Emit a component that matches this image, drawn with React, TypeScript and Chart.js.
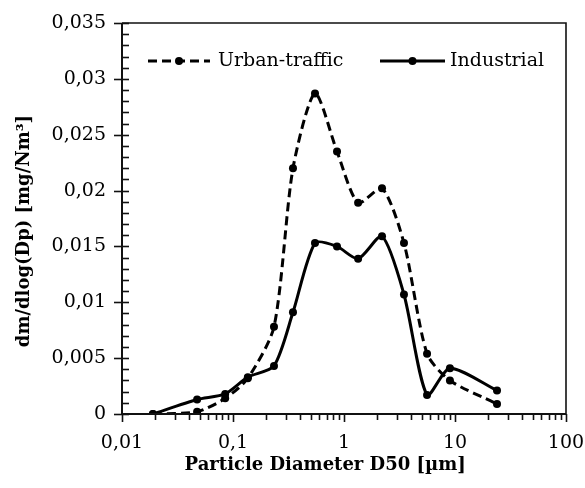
import React, { useEffect, useRef } from "react";
import { Chart, registerables } from "chart.js";

Chart.register(...registerables);

// Particle diameter D50 [µm]
const diameters = [0.019, 0.0475, 0.085, 0.136, 0.234, 0.347, 0.548, 0.865, 1.34, 2.2, 3.47, 5.6, 9.0, 23.9];
// dm/dlog(Dp) [mg/Nm³]
const urbanTraffic = [0, 0.0002, 0.0014, 0.0032, 0.0078, 0.022, 0.0287, 0.0235, 0.0189, 0.0202, 0.0153, 0.0054, 0.003, 0.0009];
const industrial = [0, 0.0013, 0.0018, 0.0033, 0.0043, 0.0091, 0.0153, 0.015, 0.0139, 0.0159, 0.0107, 0.0017, 0.0041, 0.0021];
const seriesNames = ["Urban-traffic", "Industrial"];
const xTickValues = [0.01, 0.1, 1, 10, 100];
const yMin = 0;
const yMax = 0.035;
const yStep = 0.005;
const yMinorStep = 0.001;
const xTitle = "Particle Diameter D50 [µm]";
const yTitle = "dm/dlog(Dp) [mg/Nm³]";

const FONT = "'DejaVu Serif', serif";
const fmt = (v: number) => String(Number(v.toFixed(4))).replace(".", ",");

export default function App() {
  const ref = useRef<HTMLCanvasElement>(null);

  useEffect(() => {
    if (!ref.current) return;

    const decorPlugin = {
      id: "decor",
      afterDraw(chart: any) {
        const { ctx, chartArea: a, scales } = chart;
        const x = scales.x;
        const y = scales.y;
        const crisp = (v: number) => Math.round(v) + 0.5;
        ctx.save();
        ctx.strokeStyle = "#111";
        // box
        ctx.lineWidth = 1.6;
        ctx.beginPath();
        ctx.moveTo(a.left, a.top);
        ctx.lineTo(a.right, a.top);
        ctx.lineTo(a.right, a.bottom);
        ctx.stroke();
        ctx.lineWidth = 2;
        ctx.beginPath();
        ctx.moveTo(a.left, a.top);
        ctx.lineTo(a.left, a.bottom);
        ctx.lineTo(a.right, a.bottom);
        ctx.stroke();
        // y ticks
        ctx.lineWidth = 1.6;
        const nMinor = Math.round((yMax - yMin) / yMinorStep);
        const per = Math.round(yStep / yMinorStep);
        for (let i = 0; i <= nMinor; i++) {
          const v = yMin + i * yMinorStep;
          const py = crisp(y.getPixelForValue(v));
          const major = i % per === 0;
          ctx.beginPath();
          ctx.moveTo(a.left - (major ? 8 : 0), py);
          ctx.lineTo(a.left + 7, py);
          ctx.stroke();
        }
        // x ticks (log minor)
        for (let e = -2; e <= 2; e++) {
          for (let m = 1; m <= 9; m++) {
            const v = m * Math.pow(10, e);
            if (v > 100.0001) continue;
            const px = crisp(x.getPixelForValue(v));
            const major = m === 1;
            ctx.beginPath();
            ctx.moveTo(px, a.bottom);
            ctx.lineTo(px, a.bottom + (major ? 8 : 6));
            ctx.stroke();
          }
        }
        // legend
        const ly = a.top + 38;
        const items = [
          { ds: chart.data.datasets[0], x0: a.left + 26, x1: a.left + 88, tx: a.left + 96 },
          { ds: chart.data.datasets[1], x0: a.left + 258, x1: a.left + 323, tx: a.left + 328 },
        ];
        for (const it of items) {
          ctx.strokeStyle = it.ds.borderColor;
          ctx.lineWidth = it.ds.borderWidth;
          ctx.setLineDash(it.ds.borderDash || []);
          ctx.beginPath();
          ctx.moveTo(it.x0, ly);
          ctx.lineTo(it.x1, ly);
          ctx.stroke();
          ctx.setLineDash([]);
          ctx.fillStyle = it.ds.pointBackgroundColor;
          ctx.beginPath();
          ctx.arc((it.x0 + it.x1) / 2, ly, it.ds.pointRadius, 0, Math.PI * 2);
          ctx.fill();
          ctx.fillStyle = "#000";
          ctx.font = `19px ${FONT}`;
          ctx.textBaseline = "middle";
          ctx.textAlign = "left";
          ctx.fillText(it.ds.label, it.tx, ly);
        }
        ctx.restore();
      },
    };

    const mk = (vals: number[]) => diameters.map((d, i) => ({ x: d, y: vals[i] }));

    const chart = new Chart(ref.current, {
      type: "line",
      data: {
        datasets: [
          {
            label: seriesNames[0],
            data: mk(urbanTraffic),
            borderColor: "#000",
            borderWidth: 3,
            borderDash: [9, 5],
            pointRadius: 4,
            pointBackgroundColor: "#000",
            pointBorderWidth: 0,
            tension: 0.25,
          },
          {
            label: seriesNames[1],
            data: mk(industrial),
            borderColor: "#000",
            borderWidth: 3,
            pointRadius: 4,
            pointBackgroundColor: "#000",
            pointBorderWidth: 0,
            tension: 0.25,
          },
        ],
      },
      options: {
        responsive: false,
        animation: false,
        devicePixelRatio: 1,
        layout: { padding: { top: 23, right: 34, left: 0, bottom: 0 } },
        plugins: { legend: { display: false }, tooltip: { enabled: false } },
        scales: {
          x: {
            type: "logarithmic",
            min: 0.01,
            max: 100,
            afterBuildTicks: (s: any) => {
              s.ticks = xTickValues.map((v) => ({ value: v }));
            },
            afterFit: (s: any) => {
              s.height = 74;
              s.paddingLeft = 0;
              s.paddingRight = 0;
            },
            grid: { display: false, drawTicks: false },
            border: { display: false },
            ticks: {
              color: "#000",
              font: { family: FONT, size: 19 },
              padding: 18,
              maxRotation: 0,
              autoSkip: false,
              callback: (v: any) => fmt(Number(v)),
            },
            title: {
              display: true,
              text: xTitle + "\u00a0\u00a0\u00a0\u00a0\u00a0\u00a0",
              color: "#000",
              font: { family: FONT, size: 18, weight: "bold" },
              padding: { top: 0, bottom: 12 },
            },
          },
          y: {
            type: "linear",
            min: yMin,
            max: yMax,
            afterFit: (s: any) => {
              s.width = 122;
              s.paddingTop = 0;
              s.paddingBottom = 0;
            },
            grid: { display: false, drawTicks: false },
            border: { display: false },
            ticks: {
              stepSize: yStep,
              color: "#000",
              font: { family: FONT, size: 19 },
              padding: 16,
              callback: (v: any) => fmt(Number(v)),
            },
            title: {
              display: true,
              text: yTitle + "\u00a0\u00a0\u00a0\u00a0",
              color: "#000",
              font: { family: FONT, size: 18, weight: "bold" },
              padding: { top: 14, bottom: 0 },
            },
          },
        },
      },
      plugins: [decorPlugin],
    } as any);

    return () => chart.destroy();
  }, []);

  return (
    <div style={{ position: "fixed", left: 0, top: 0, width: 585, height: 488, overflow: "hidden", background: "#fff" }}>
      <canvas ref={ref} width={600} height={488} style={{ width: 600, height: 488, display: "block" }} />
    </div>
  );
}
